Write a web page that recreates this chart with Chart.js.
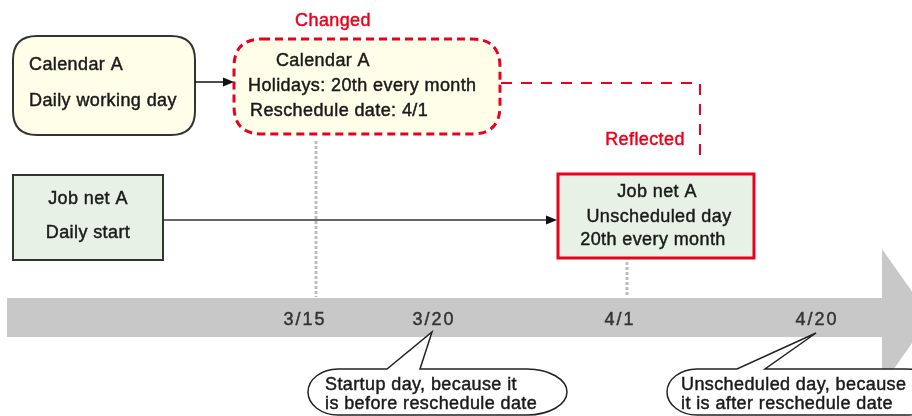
<!DOCTYPE html>
<html>
<head>
<meta charset="utf-8">
<script src="https://cdn.jsdelivr.net/npm/chart.js@4.4.0/dist/chart.umd.min.js"></script>
<style>
  html, body { margin: 0; padding: 0; background: #fff; }
</style>
</head>
<body>
<canvas id="chart" width="912" height="416"></canvas>
<script>
'use strict';

// timeline dates and where they sit on the timeline scale
const dates = ['3/15', '3/20', '4/1', '4/20'];
const dateValues = [305, 434, 620, 817];

// box texts
const calendarOld = ['Calendar A', 'Daily working day'];
const calendarNew = ['Calendar A', 'Holidays: 20th every month', 'Reschedule date: 4/1'];
const jobOld = ['Job net A', 'Daily start'];
const jobNew = ['Job net A', 'Unscheduled day', '20th every month'];
const note1 = ['Startup day, because it', 'is before reschedule date'];
const note2 = ['Unscheduled day, because', 'it is after reschedule date'];
const changedLabel = 'Changed';
const reflectedLabel = 'Reflected';

const RED = '#e8001c';
const FONT = '"Liberation Sans", Arial, sans-serif';

let canvasElem = document.getElementById('chart');

function roundRect(ctx, x, y, w, h, r) {
    ctx.beginPath();
    ctx.moveTo(x + r, y);
    ctx.lineTo(x + w - r, y);
    ctx.quadraticCurveTo(x + w, y, x + w, y + r);
    ctx.lineTo(x + w, y + h - r);
    ctx.quadraticCurveTo(x + w, y + h, x + w - r, y + h);
    ctx.lineTo(x + r, y + h);
    ctx.quadraticCurveTo(x, y + h, x, y + h - r);
    ctx.lineTo(x, y + r);
    ctx.quadraticCurveTo(x, y, x + r, y);
    ctx.closePath();
}

function arrowHead(ctx, x, y, dir, color) {
    ctx.save();
    ctx.fillStyle = color;
    ctx.beginPath();
    ctx.moveTo(x, y);
    ctx.lineTo(x - 11 * dir, y - 4.5);
    ctx.lineTo(x - 11 * dir, y + 4.5);
    ctx.closePath();
    ctx.fill();
    ctx.restore();
}

// speech bubble with elliptical ends and a tail pointing up
function bubble(ctx, x0, y0, x1, y1, rl, rr, tail) {
    const ry = (y1 - y0) / 2;
    const cy = y0 + ry;
    ctx.beginPath();
    ctx.moveTo(x0 + rl, y0);
    ctx.lineTo(tail[0], y0);
    ctx.lineTo(tail[1], tail[2]);
    ctx.lineTo(tail[3], y0);
    ctx.lineTo(x1 - rr, y0);
    ctx.ellipse(x1 - rr, cy, rr, ry, 0, -Math.PI / 2, Math.PI / 2);
    ctx.lineTo(x0 + rl, y1);
    ctx.ellipse(x0 + rl, cy, rl, ry, 0, Math.PI / 2, Math.PI * 1.5);
    ctx.closePath();
    ctx.fillStyle = '#fff';
    ctx.fill();
    ctx.strokeStyle = '#222';
    ctx.lineWidth = 1.5;
    ctx.stroke();
}

function text(ctx, str, x, y, align, color, size, spacing) {
    ctx.save();
    ctx.font = (size || 18) + 'px ' + FONT;
    ctx.fillStyle = color || '#1a1a1a';
    ctx.strokeStyle = color || '#1a1a1a';
    ctx.lineWidth = 0.45;
    ctx.textAlign = align || 'left';
    ctx.textBaseline = 'middle';
    ctx.letterSpacing = (spacing || 0.4) + 'px';
    ctx.fillText(str, x, y);
    ctx.strokeText(str, x, y);
    ctx.restore();
}

const diagramPlugin = {
    id: 'diagram',
    beforeDatasetsDraw(chart) {
        const ctx = chart.ctx;
        const sx = v => chart.scales.x.getPixelForValue(v);
        const sy = v => chart.scales.y.getPixelForValue(v);
        ctx.save();

        // timeline band with arrow head
        ctx.fillStyle = '#c8c8c8';
        ctx.fillRect(sx(7), sy(298), sx(883) - sx(7), sy(337) - sy(298));
        ctx.beginPath();
        ctx.moveTo(sx(882), sy(249));
        ctx.lineTo(sx(930), sy(317));
        ctx.lineTo(sx(882), sy(386));
        ctx.closePath();
        ctx.fill();

        // old calendar box
        roundRect(ctx, sx(13), sy(36), sx(195) - sx(13), sy(135) - sy(36), 24);
        ctx.fillStyle = '#fefee9';
        ctx.fill();
        ctx.strokeStyle = '#333';
        ctx.lineWidth = 2;
        ctx.stroke();

        // changed calendar box
        roundRect(ctx, sx(234), sy(39), sx(500) - sx(234), sy(134) - sy(39), 28);
        ctx.fillStyle = '#fefee9';
        ctx.fill();
        ctx.strokeStyle = RED;
        ctx.lineWidth = 3;
        ctx.setLineDash([8, 5]);
        ctx.stroke();
        ctx.setLineDash([]);

        // old job net box
        ctx.fillStyle = '#e8f1e5';
        ctx.fillRect(sx(13), sy(175), sx(163) - sx(13), sy(260) - sy(175));
        ctx.strokeStyle = '#333';
        ctx.lineWidth = 2;
        ctx.strokeRect(sx(13), sy(175), sx(163) - sx(13), sy(260) - sy(175));

        // new job net box
        ctx.fillStyle = '#e8f1e5';
        ctx.fillRect(sx(558), sy(174), sx(754) - sx(558), sy(258) - sy(174));
        ctx.strokeStyle = RED;
        ctx.lineWidth = 3;
        ctx.strokeRect(sx(558), sy(174), sx(754) - sx(558), sy(258) - sy(174));

        ctx.restore();
    },
    afterDatasetsDraw(chart) {
        const ctx = chart.ctx;
        const sx = v => chart.scales.x.getPixelForValue(v);
        const sy = v => chart.scales.y.getPixelForValue(v);

        arrowHead(ctx, sx(234), sy(82), 1, '#111');
        arrowHead(ctx, sx(557), sy(220), 1, '#111');

        // date labels on the band
        for (let i = 0; i < dates.length; i++) {
            text(ctx, dates[i], sx(dateValues[i]), sy(320), 'center', '#333', 18, 2);
        }

        // callouts
        bubble(ctx, sx(308), sy(369), sx(567), sy(415), 30, 40,
            [sx(387), sx(dateValues[1] - 2), sy(332), sx(420)]);
        bubble(ctx, sx(667), sy(369), sx(945), sy(415), 30, 40,
            [sx(737), sx(dateValues[3] - 1), sy(333), sx(765)]);
        text(ctx, note1[0], sx(325), sy(385));
        text(ctx, note1[1], sx(325), sy(404));
        text(ctx, note2[0], sx(681), sy(385));
        text(ctx, note2[1], sx(681), sy(404));

        // box texts
        text(ctx, calendarOld[0], sx(29), sy(65));
        text(ctx, calendarOld[1], sx(29), sy(101));
        text(ctx, calendarNew[0], sx(323), sy(61), 'center');
        text(ctx, calendarNew[1], sx(248), sy(86));
        text(ctx, calendarNew[2], sx(250), sy(111));
        text(ctx, jobOld[0], sx(88), sy(199), 'center');
        text(ctx, jobOld[1], sx(88), sy(233), 'center');
        text(ctx, jobNew[0], sx(657), sy(192), 'center');
        text(ctx, jobNew[1], sx(659), sy(217), 'center');
        text(ctx, jobNew[2], sx(653), sy(240), 'center');

        text(ctx, changedLabel, sx(333), sy(21), 'center', RED);
        text(ctx, reflectedLabel, sx(645), sy(140), 'center', RED);
    }
};

function line(points, color, width, dash) {
    return {
        type: 'line',
        data: points,
        borderColor: color,
        borderWidth: width,
        borderDash: dash || [],
        pointRadius: 0,
        fill: false,
        tension: 0
    };
}

function renderChart() {
    const data = {
        datasets: [
            line([{ x: 195, y: 82 }, { x: 226, y: 82 }], '#111', 1.5),
            line([{ x: 163, y: 220 }, { x: 548, y: 220 }], '#333', 1.5),
            line([{ x: 501, y: 83 }, { x: 700, y: 83 }, { x: 700, y: 163 }], RED, 2, [11, 9]),
            line([{ x: 316, y: 141 }, { x: 316, y: 297 }], '#bdbdbd', 3, [3, 2]),
            line([{ x: 627, y: 262 }, { x: 627, y: 297 }], '#bdbdbd', 3, [3, 2])
        ]
    };

    const config = {
        type: 'scatter',
        data: data,
        options: {
            responsive: false,
            animation: false,
            devicePixelRatio: 1,
            layout: { padding: 0 },
            plugins: {
                legend: { display: false },
                tooltip: { enabled: false }
            },
            scales: {
                x: { type: 'linear', min: 0, max: 912, display: false },
                y: { type: 'linear', min: 0, max: 416, reverse: true, display: false }
            }
        },
        plugins: [diagramPlugin]
    };
    const myGraph = new Chart(canvasElem, config);
}

renderChart();
</script>
</body>
</html>
